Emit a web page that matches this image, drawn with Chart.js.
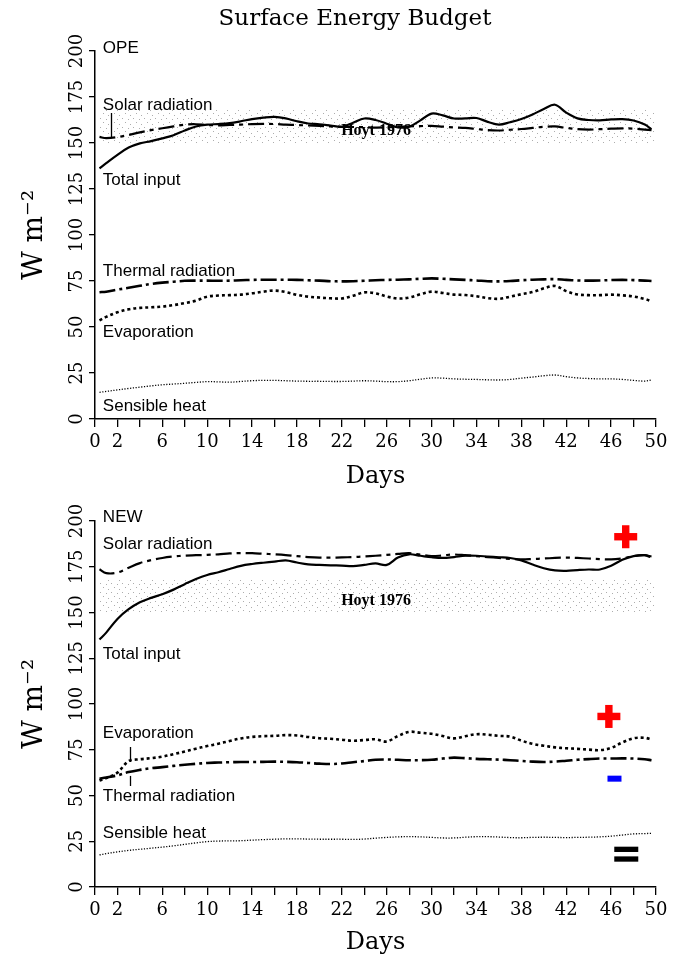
<!DOCTYPE html>
<html>
<head>
<meta charset="utf-8">
<title>Surface Energy Budget</title>
<script src="https://cdn.jsdelivr.net/npm/chart.js@4.4.1/dist/chart.umd.min.js"></script>
<style>
  body { margin: 0; background: #fff; }
  canvas { display: block; }
</style>
</head>
<body>
<canvas id="opeChart" width="682" height="492"></canvas>
<canvas id="newChart" width="682" height="469"></canvas>
<script>
// days along the run (first and last samples sit just inside the axis)
const days = [0.4, 1, 2, 3, 4, 5, 6, 7, 8, 9, 10, 11, 12, 13, 14, 15, 16, 17, 18, 19, 20,
  21, 22, 23, 24, 25, 26, 27, 28, 29, 30, 31, 32, 33, 34, 35, 36, 37, 38, 39, 40,
  41, 42, 43, 44, 45, 46, 47, 48, 49, 49.6]

// OPE run, W m-2
const opeTotal = [136.2, 139, 143.5, 147.5, 149.8, 151, 152.5, 154.2, 156.8, 159, 160, 160.3, 160.8, 161.8, 163, 163.8, 164.2, 163.4, 161.8, 160.6, 160.2,
  159.5, 158.8, 161, 163.3, 162.5, 160.5, 158.5, 158.8, 162.3, 166, 165, 163.3, 163.4, 163.6, 161.5, 160, 161.3, 163, 165.5, 168.5,
  170.8, 166.5, 163.4, 162.5, 162.3, 162.8, 163, 162.2, 160, 157.5]
const opeSolar = [153.3, 152.6, 153.2, 154.4, 155.8, 157, 158, 159, 160, 160.2, 159.8, 159.6, 159.8, 160, 160.3, 160.4, 160.3, 160, 159.8, 159.5, 159.3,
  159, 158.8, 158.7, 158.6, 158.4, 158.5, 158.8, 159, 159.2, 159.3, 158.9, 158.5, 158.2, 157.6, 157, 156.8, 157.2, 157.6, 158.2, 158.8,
  159, 158.2, 157.5, 157.3, 157.5, 157.8, 158, 157.8, 157.3, 157]
const opeThermal = [68.9, 69.2, 70.3, 71.3, 72.4, 73.4, 74.1, 74.6, 75.1, 75.2, 75.2, 75.1, 75.2, 75.4, 75.6, 75.7, 75.7, 75.7, 75.6, 75.4, 75.2,
  74.9, 74.8, 74.9, 75.1, 75.4, 75.6, 75.7, 75.9, 76.2, 76.4, 76.2, 75.9, 75.6, 75.3, 74.9, 74.8, 75, 75.4, 75.7, 75.9,
  76, 75.6, 75.3, 75.2, 75.3, 75.5, 75.6, 75.5, 75.2, 75]
const opeEvap = [53.6, 55.5, 58, 59.6, 60.4, 60.7, 61.1, 61.9, 63, 64.3, 66.5, 67.1, 67.3, 67.6, 68.3, 69.2, 69.8, 69, 67.5, 66.5, 66,
  65.6, 65.5, 67, 68.8, 68.3, 66.6, 65.5, 66, 67.8, 69.2, 68.5, 67.6, 67.4, 66.7, 65.7, 65.3, 66.5, 67.8, 69, 71,
  72.3, 69.5, 67.7, 67.3, 67.3, 67.6, 67.2, 66.6, 65.2, 64]
const opeSensible = [14.5, 15, 15.8, 16.6, 17.3, 18, 18.6, 19, 19.4, 19.9, 20.3, 20.2, 20, 20.4, 20.8, 21, 21, 20.8, 20.6, 20.5, 20.5,
  20.4, 20.4, 20.6, 20.8, 20.6, 20.3, 20.3, 20.8, 21.6, 22.3, 22.2, 21.8, 21.6, 21.5, 21.3, 21.2, 21.5, 22.2, 22.8, 23.5,
  23.9, 23, 22.3, 22, 21.8, 21.8, 21.5, 21, 20.6, 21.2]

// NEW run, W m-2
const newTotal = [135.2, 139, 146.5, 151.8, 155.6, 158, 160, 162.5, 165.5, 168.3, 170.5, 172, 173.8, 175.5, 176.5, 177.2, 177.8, 178.5, 177.3, 176.3, 176,
  175.8, 175.6, 175.3, 176, 176.8, 176, 180, 181.8, 181, 180.2, 179.8, 180.3, 181, 181, 180.6, 180.2, 179.8, 178.5, 176.2, 174.2,
  173, 172.8, 173.2, 173.5, 173.5, 175.5, 178.8, 180.8, 181.3, 180.6]
const newSolar = [173.6, 171.5, 171.8, 174.5, 177, 178.6, 179.8, 180.6, 181.1, 181.3, 181.5, 181.8, 182.3, 182.5, 182.4, 182.1, 181.8, 181.4, 180.8, 180.3, 180,
  180, 180.1, 180.3, 180.6, 181, 181.5, 182, 182.4, 181.6, 180.8, 181.2, 181.7, 181.3, 180.8, 180.3, 179.8, 179.3, 179, 179.2, 179.5,
  179.8, 180, 179.8, 179.5, 179.2, 179, 179.6, 180.8, 181.3, 180]
const newEvap = [58.2, 59.5, 62.5, 68.8, 69.8, 70.4, 71.2, 72.6, 74, 75.6, 77, 78.3, 79.8, 81.2, 82, 82.4, 82.6, 83, 82.8, 82, 81.3,
  81, 80.5, 79.9, 80.3, 80.7, 79.5, 82.5, 84.8, 84.3, 83.7, 82.5, 81.2, 82.4, 83.5, 83.2, 82.6, 82.2, 80, 78.2, 77.2,
  76.3, 75.8, 75.5, 75.1, 74.8, 76, 79, 81.3, 81.5, 80.6]
const newThermal = [59.2, 59.8, 61, 62.8, 64, 64.9, 65.5, 66.2, 66.8, 67.3, 67.8, 68, 68.2, 68.3, 68.3, 68.4, 68.5, 68.4, 68.2, 67.8, 67.4,
  67.2, 67.5, 68.2, 68.8, 69.5, 69.7, 69.5, 69.3, 69.3, 69.5, 70.2, 70.7, 70.4, 70, 69.8, 69.6, 69.3, 68.9, 68.5, 68.3,
  68.5, 69, 69.5, 69.9, 70.2, 70.2, 70.3, 70.2, 69.8, 69.3]
const newSensible = [17.5, 18.2, 19.2, 20, 20.6, 21.2, 21.8, 22.5, 23.3, 24.1, 24.8, 25.1, 25.2, 25.3, 25.6, 25.9, 26.1, 26.3, 26.3, 26.2, 26.1,
  26.1, 26.1, 26, 26.2, 26.7, 27.1, 27.4, 27.5, 27.4, 27.1, 26.8, 26.8, 27.2, 27.5, 27.5, 27.3, 27, 26.9, 27.1, 27.2,
  27.1, 27, 27.1, 27.2, 27.4, 27.8, 28.4, 29, 29.2, 29.3]

// Hoyt (1976) range, low/high
const hoytBand = [150, 168]
const hoytSpan = [0.3, 50]

const xLabelDays = [0, 2, 6, 10, 14, 18, 22, 26, 30, 34, 38, 42, 46, 50]

const SERIF = '"DejaVu Serif", "Liberation Serif", serif'
const SANS = '"Liberation Sans", Arial, sans-serif'

// sparse light stipple for the Hoyt band
const stipple = (() => {
  const c = document.createElement('canvas')
  c.width = 11
  c.height = 9
  const g = c.getContext('2d')
  g.fillStyle = 'rgba(0,0,0,0.32)'
  ;[[1, 1], [7, 2], [4, 5], [9, 7]].forEach(([px, py]) => g.fillRect(px, py, 1, 1))
  return g.createPattern(c, 'repeat')
})()

const lineSet = (values, dash, width) => ({
  data: days.map((d, i) => ({ x: d, y: values[i] })),
  borderColor: '#000',
  borderWidth: width,
  borderDash: dash,
  borderCapStyle: 'butt',
  pointRadius: 0,
  tension: 0.35,
  fill: false,
})

const bandSets = () => [
  {
    data: hoytSpan.map(d => ({ x: d, y: hoytBand[1] })),
    borderWidth: 0, borderColor: 'rgba(0,0,0,0)', pointRadius: 0,
    fill: '+1', backgroundColor: stipple,
  },
  {
    data: hoytSpan.map(d => ({ x: d, y: hoytBand[0] })),
    borderWidth: 0, borderColor: 'rgba(0,0,0,0)', pointRadius: 0, fill: false,
  },
]

const notesPlugin = (cfg) => ({
  id: 'notes',
  afterDatasetsDraw(chart) {
    const { ctx } = chart
    const { x, y } = chart.scales
    ctx.save()
    ctx.fillStyle = '#000'
    ctx.strokeStyle = '#000'

    if (cfg.title) {
      ctx.font = `23px ${SERIF}`
      ctx.textAlign = 'center'
      ctx.textBaseline = 'alphabetic'
      ctx.fillText(cfg.title, 355, 25)
    }

    ctx.font = `17px ${SANS}`
    ctx.textAlign = 'left'
    ctx.textBaseline = 'alphabetic'
    cfg.labels.forEach(l => ctx.fillText(l.text, x.getPixelForValue(0.7), y.getPixelForValue(l.value)))

    ctx.lineWidth = 1.3
    cfg.leaders.forEach(l => {
      const px = Math.round(x.getPixelForValue(l.day)) + 0.5
      ctx.beginPath()
      ctx.moveTo(px, y.getPixelForValue(l.from))
      ctx.lineTo(px, y.getPixelForValue(l.to))
      ctx.stroke()
    })

    ctx.font = `bold 16px "Liberation Serif", serif`
    ctx.textAlign = 'center'
    ctx.textBaseline = 'middle'
    ctx.fillText('Hoyt 1976', x.getPixelForValue(25.05), y.getPixelForValue(cfg.hoytValue))

    ;(cfg.marks || []).forEach(m => {
      const cx = x.getPixelForValue(m.day)
      const cy = y.getPixelForValue(m.value)
      ctx.fillStyle = m.color
      if (m.kind === 'plus') {
        ctx.fillRect(cx - 11.5, cy - 3.7, 23, 7.4)
        ctx.fillRect(cx - 3.7, cy - 11.5, 7.4, 23)
      } else if (m.kind === 'minus') {
        ctx.fillRect(cx - 7, cy - 3, 14, 6)
      } else {
        ctx.fillRect(cx - 12, cy - 5, 24, 5.3)
        ctx.fillRect(cx - 12, cy + 4.7, 24, 5.3)
      }
    })
    ctx.restore()
  },
})

function buildChart(id, series, cfg) {
  const axisFont = { family: SERIF, size: 18 }
  return new Chart(document.getElementById(id), {
    type: 'line',
    data: {
      datasets: [
        lineSet(series.total, [], 2.2),
        lineSet(series.solar, [16, 5, 4, 5], 2.2),
        lineSet(series.thermal, [16, 4, 3, 4], 2.6),
        lineSet(series.evap, [3, 3], 2.6),
        lineSet(series.sensible, [1.2, 1.6], 1.3),
        ...bandSets(),
      ],
    },
    options: {
      responsive: false,
      animation: false,
      devicePixelRatio: 1,
      layout: { padding: { top: cfg.top, right: 26, left: 0, bottom: 0 } },
      plugins: { legend: { display: false }, tooltip: { enabled: false } },
      scales: {
        x: {
          type: 'linear',
          min: 0,
          max: 50,
          afterFit: (s) => { s.height = cfg.xHeight },
          border: { display: true, color: '#000', width: 1.5 },
          grid: { display: true, drawOnChartArea: false, drawTicks: true, tickLength: 8, color: '#000', lineWidth: 1.3 },
          ticks: {
            stepSize: 2,
            autoSkip: false,
            maxRotation: 0,
            color: '#000',
            font: axisFont,
            padding: 5,
            callback: (v) => (xLabelDays.includes(v) ? String(v) : ''),
          },
          title: {
            display: true,
            text: 'Days',
            color: '#000',
            font: { family: SERIF, size: 24, lineHeight: 1.2 },
            padding: { top: 0, bottom: cfg.daysPad },
          },
        },
        y: {
          min: 0,
          max: 200,
          afterFit: (s) => { s.width = 95 },
          border: { display: true, color: '#000', width: 1.5 },
          grid: { display: true, drawOnChartArea: false, drawTicks: true, tickLength: 6, color: '#000', lineWidth: 1.3 },
          ticks: {
            stepSize: 25,
            minRotation: 90,
            maxRotation: 90,
            crossAlign: 'center',
            padding: -6,
            color: '#000',
            font: axisFont,
          },
          title: {
            display: true,
            text: 'W m\u207B\u00B2',
            color: '#000',
            font: { family: SERIF, size: 28, lineHeight: 1.2 },
            padding: { top: 18, bottom: 0 },
          },
        },
      },
    },
    plugins: [notesPlugin(cfg)],
  })
}

buildChart('opeChart',
  { total: opeTotal, solar: opeSolar, thermal: opeThermal, evap: opeEvap, sensible: opeSensible },
  {
    top: 51, xHeight: 73, daysPad: 1,
    title: 'Surface Energy Budget',
    hoytValue: 156.5,
    labels: [
      { text: 'OPE', value: 198.7 },
      { text: 'Solar radiation', value: 168 },
      { text: 'Total input', value: 127.2 },
      { text: 'Thermal radiation', value: 77.5 },
      { text: 'Evaporation', value: 44.4 },
      { text: 'Sensible heat', value: 4.3 },
    ],
    leaders: [{ day: 1.4, from: 166.3, to: 152.6 }],
  })

buildChart('newChart',
  { total: newTotal, solar: newSolar, thermal: newThermal, evap: newEvap, sensible: newSensible },
  {
    top: 29, xHeight: 74, daysPad: 4,
    hoytValue: 156.3,
    labels: [
      { text: 'NEW', value: 199.6 },
      { text: 'Solar radiation', value: 184.7 },
      { text: 'Total input', value: 124.6 },
      { text: 'Evaporation', value: 81.4 },
      { text: 'Thermal radiation', value: 47 },
      { text: 'Sensible heat', value: 26.8 },
    ],
    leaders: [{ day: 3.1, from: 76.5, to: 68.3 }, { day: 3.1, from: 60.7, to: 55.2 }],
    marks: [
      { kind: 'plus', color: '#ff0000', day: 47.3, value: 191.4 },
      { kind: 'plus', color: '#ff0000', day: 45.8, value: 93.2 },
      { kind: 'minus', color: '#0000ff', day: 46.3, value: 59.2 },
      { kind: 'equals', color: '#000', day: 47.35, value: 19.3 },
    ],
  })
</script>
</body>
</html>
